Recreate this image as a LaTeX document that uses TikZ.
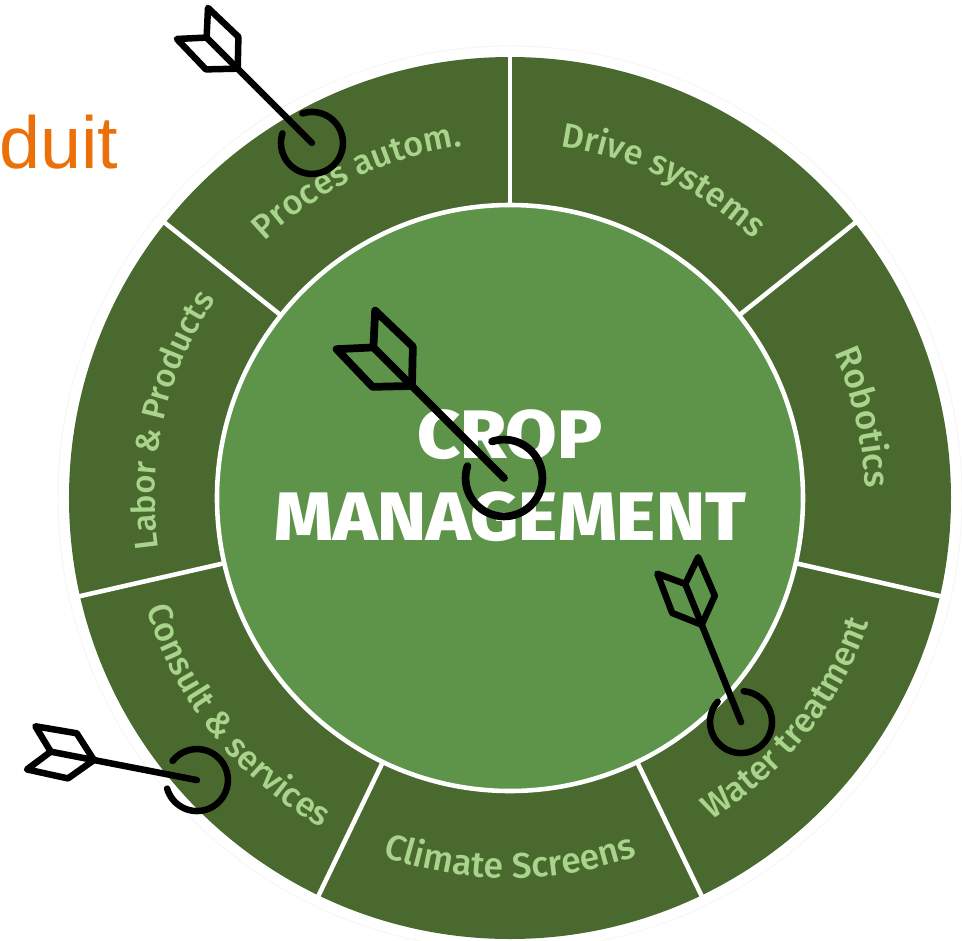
\documentclass[tikz,border=0pt]{standalone}
\usepackage{fontspec}
\usetikzlibrary{decorations.text}
\newfontfamily\labelfont{Fira Sans Medium}
\newfontfamily\titlefont[FakeStretch=1.09]{Fira Sans ExtraBold}
\newfontfamily\cutfont{Liberation Sans}
\definecolor{ringgreen}{RGB}{74,105,46}
\definecolor{hubgreen}{RGB}{94,148,74}
\definecolor{labelgreen}{RGB}{168,212,140}
\definecolor{cutorange}{RGB}{236,112,10}
\tikzset{
  titletext/.style={white,inner sep=0,anchor=base,font=\titlefont\fontsize{39}{39}\selectfont},
  dartline/.style={black,line cap=round,line join=round},
  dartmark/.pic={
    \draw[dartline,line width=#1] (0,0)--(149,0);
    \draw[dartline,line width=#1] (27:31) arc[start angle=27,end angle=333,radius=31];
    \draw[dartline,line width=#1] (105,0)--(127,23)--(169,22)--(149,0)--(169,-22)--(127,-23)--cycle;
  }
}
\newcommand{\ringlabel}[5]{
\path[decorate,decoration={text along path,text align=center,
  text={|\labelfont\fontsize{#4}{#4}\selectfont\color{labelgreen}|#5}}]
  (#1:#3) arc[start angle=#1,end angle=#2,radius=#3];
}
\begin{document}
\begin{tikzpicture}[scale=0.02]
\useasboundingbox (-510,-442) rectangle (452,498);
\coordinate (O) at (0,0);
\coordinate (tipA) at (-198,355);
\coordinate (tipB) at (-6,20);
\coordinate (tipC) at (-313,-282);
\coordinate (tipD) at (231,-224);
\draw[black!4,line width=0.5pt] (O) circle (452);
\fill[ringgreen] (O) circle (441);
\foreach \a in {0,...,6} {
  \draw[white,line width=2.6pt] (90+\a*360/7:293)--(90+\a*360/7:445);
}
\draw[white,line width=2.6pt,fill=hubgreen] (O) circle (293);
\node[inner sep=0,anchor=base west,text=cutorange,font=\cutfont\fontsize{42}{42}\selectfont] (cut) at (-511,330) {duit};
\node[titletext] (crop) at (0,40) {CROP};
\node[titletext] (manage) at (0,-42) {MANAGEMENT};
\ringlabel{114.3}{14.3}{355}{19.5}{Drive systems}
\ringlabel{62.86}{-37.14}{355}{20}{Robotics}
\ringlabel{-88.57}{11.43}{380}{19.5}{Water treatment}
\ringlabel{-140}{-40}{380}{20.3}{Climate Screens}
\ringlabel{-191.4}{-91.4}{380}{19.5}{Consult {\&} services}
\ringlabel{217.1}{117.1}{355}{18.7}{Labor {\&} Products}
\ringlabel{165.7}{65.7}{355}{19.5}{Proces autom.}
\pic[transform shape,rotate=135] at (tipA) {dartmark=3.7pt};
\pic[transform shape,rotate=135,scale=1.24] at (tipB) {dartmark=4.4pt};
\pic[transform shape,rotate=169] at (tipC) {dartmark=3.7pt};
\pic[transform shape,rotate=112] at (tipD) {dartmark=3.7pt};
\end{tikzpicture}
\end{document}
